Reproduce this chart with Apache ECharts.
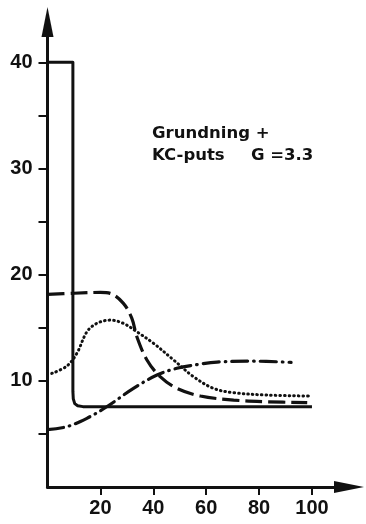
<!DOCTYPE html>
<html>
<head>
<meta charset="utf-8">
<script src="https://cdn.jsdelivr.net/npm/echarts@6/dist/echarts.min.js"></script>
<style>
html,body{margin:0;padding:0;background:#fff;}
#c{width:366px;height:524px;}
</style>
</head>
<body>
<div id="c"></div>
<script>
// ---- data ----
const xTickValues = [20, 40, 60, 80, 100];
const yTickValues = [5, 10, 15, 20, 25, 30, 35, 40];
const yLabelValues = [10, 20, 30, 40];

// solid line
const solid = [[0, 40], [9.6, 40], [9.6, 9.0], [9.75, 8.3], [10.3, 7.85], [11.4, 7.65], [13.4, 7.57], [100, 7.55]];
// long dashed line
const dashed = [[0, 18.14], [10, 18.25], [20, 18.33], [23.7, 18.24], [28.7, 17.3], [31.9, 15.88], [33.8, 14.15],
  [37.6, 11.96], [42.6, 10.39], [48.9, 9.29], [57.8, 8.57], [70.4, 8.19], [83, 8.03], [98.2, 7.94]];
// dotted line
const dotted = [[1.6, 10.7], [7.3, 11.39], [11.1, 12.59], [14.9, 14.62], [18.6, 15.41], [23.7, 15.72], [28.7, 15.41],
  [33.8, 14.62], [40.1, 13.53], [47.7, 11.96], [55.2, 10.39], [62.8, 9.29], [70.4, 8.88], [83, 8.66], [98.7, 8.57]];
// dash-dot line
const dashDot = [[0, 5.4], [7.3, 5.68], [14.9, 6.47], [22.4, 7.56], [32.5, 9.29], [41.4, 10.55], [48.9, 11.18],
  [57.8, 11.58], [64.1, 11.77], [76.7, 11.86], [92.1, 11.74]];

const noteLine1 = 'Grundning +';
const noteLine2a = 'KC-puts';
const noteLine2b = 'G =3.3';

// ---- chart ----
const ink = '#111';
const chart = echarts.init(document.getElementById('c'), null, {renderer: 'canvas'});
const labelFont = {fontFamily: 'Liberation Sans', fontWeight: 'bold', fontSize: 20, color: ink};
const noteFont = 'bold 16.5px "DejaVu Sans"';

chart.setOption({
  backgroundColor: '#fff',
  animation: false,
  grid: {left: 47.5, right: 17, top: 22, bottom: 37, containLabel: false},
  xAxis: {
    type: 'value', min: 0, max: 114,
    axisLine: {show: true, symbol: ['none', 'triangle'], symbolSize: [12, 30], lineStyle: {color: ink, width: 3}},
    axisTick: {show: true, length: 8, inside: false, customValues: xTickValues, lineStyle: {color: ink, width: 2}},
    axisLabel: Object.assign({margin: 11, customValues: xTickValues}, labelFont),
    splitLine: {show: false}
  },
  yAxis: {
    type: 'value', min: 0, max: 43.8,
    axisLine: {show: true, symbol: ['none', 'triangle'], symbolSize: [12, 30], lineStyle: {color: ink, width: 3}},
    axisTick: {show: true, length: 9, inside: false, customValues: yTickValues, lineStyle: {color: ink, width: 2}},
    axisLabel: Object.assign({margin: 15, customValues: yLabelValues}, labelFont),
    splitLine: {show: false}
  },
  series: [
    {type: 'line', data: solid, showSymbol: false, smooth: false,
      lineStyle: {color: ink, width: 3, join: 'round'}, z: 5},
    {type: 'line', data: dashed, showSymbol: false, smooth: 0.35,
      lineStyle: {color: ink, width: 3.2, type: [17, 6], cap: 'butt'}},
    {type: 'line', data: dotted, showSymbol: false, smooth: 0.35,
      lineStyle: {color: ink, width: 3, type: [0.6, 4], cap: 'round'}},
    {type: 'line', data: dashDot, showSymbol: false, smooth: 0.35,
      lineStyle: {color: ink, width: 3.2, type: [16, 6, 0.6, 6], cap: 'round'}}
  ],
  graphic: [
    {type: 'text', x: 152, y: 134, style: {text: noteLine1, fill: ink, font: noteFont, verticalAlign: 'middle'}},
    {type: 'text', x: 152, y: 156, style: {text: noteLine2a, fill: ink, font: noteFont, verticalAlign: 'middle'}},
    {type: 'text', x: 251, y: 156, style: {text: noteLine2b, fill: ink, font: noteFont, verticalAlign: 'middle'}}
  ]
});
</script>
</body>
</html>
